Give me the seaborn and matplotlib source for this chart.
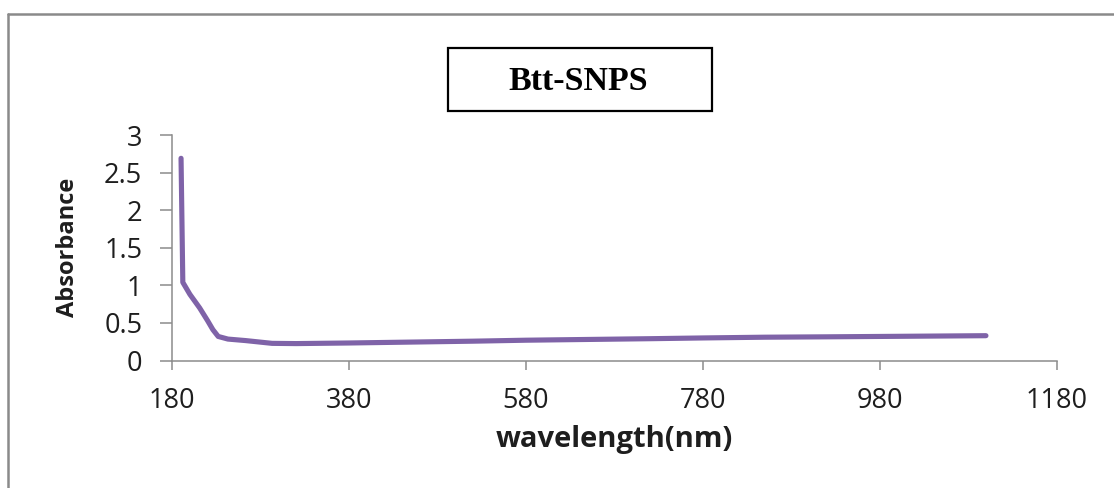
import matplotlib
matplotlib.use("Agg")
import matplotlib.pyplot as plt
from matplotlib.lines import Line2D
from matplotlib.patches import Rectangle
from matplotlib.ticker import FuncFormatter
import seaborn as sns
import pandas as pd

# ---- data ----
wavelength = [190, 192, 200, 211, 220, 226, 232, 243, 263, 293, 320, 380, 450,
              520, 580, 650, 720, 780, 850, 920, 980, 1040, 1100]
absorbance = [2.69, 1.04, 0.88, 0.70, 0.53, 0.41, 0.32, 0.285, 0.265, 0.228, 0.225,
              0.233, 0.245, 0.257, 0.27, 0.28, 0.29, 0.30, 0.31, 0.315, 0.32, 0.325, 0.33]
x_ticks = [180, 380, 580, 780, 980, 1180]
y_ticks = [0, 0.5, 1, 1.5, 2, 2.5, 3]
title = "Btt-SNPS"
x_label = "wavelength(nm)"
y_label = "Absorbance"

sns.set_style("white")
plt.rcParams['font.family'] = ['Open Sans', 'DejaVu Sans']

W, H = 1114, 488
fig = plt.figure(figsize=(W / 100, H / 100), dpi=100)
fig.patch.set_facecolor("white")

def fx(px):
    return px / W

def fy(py):
    return 1 - py / H

ax_l, ax_r, ax_t, ax_b = 172.2, 1056.7, 135.0, 360.5
ax = fig.add_axes([fx(ax_l), fy(ax_b), fx(ax_r) - fx(ax_l), fy(ax_t) - fy(ax_b)])

df = pd.DataFrame({"wavelength": wavelength, "absorbance": absorbance})
sns.lineplot(data=df, x="wavelength", y="absorbance", ax=ax, estimator=None,
             sort=False, color="#7f63a8", linewidth=3.7,
             solid_joinstyle="round", solid_capstyle="round")

ax.set_xlim(180, 1180)
ax.set_ylim(0, 3)
ax.set_xticks(x_ticks)
ax.set_yticks(y_ticks)
ax.yaxis.set_major_formatter(FuncFormatter(lambda v, p: f"{v:g}"))

for s in ["top", "right"]:
    ax.spines[s].set_visible(False)
for s in ["left", "bottom"]:
    ax.spines[s].set_color("#8c8c8c")
    ax.spines[s].set_linewidth(1.1)

ax.tick_params(axis="x", which="major", direction="out", length=6.3, width=1.1,
               color="#8c8c8c", pad=13, labelsize=19.5, labelcolor="#1e1e1e", bottom=True)
ax.tick_params(axis="y", which="major", direction="out", length=8.5, width=1.1,
               color="#8c8c8c", pad=13, labelsize=19.5, labelcolor="#1e1e1e", left=True)

ax.set_xlabel(x_label, fontsize=21, fontweight="bold", color="#1e1e1e")
ax.set_ylabel(y_label, fontsize=17, fontweight="bold", color="#1e1e1e")
ax.xaxis.set_label_coords((614.5 - ax_l) / (ax_r - ax_l), -(440 - ax_b) / (ax_b - ax_t))
ax.yaxis.set_label_coords(-(ax_l - 68) / (ax_r - ax_l), 0.5)
ax.xaxis.label.set_va("center")
ax.yaxis.label.set_va("center")

# outer chart-area border (gray, left and top visible)
fig.add_artist(Line2D([fx(8), fx(8)], [fy(14), fy(H + 5)], color="#8a8a8a", linewidth=1.8,
                      transform=fig.transFigure))
fig.add_artist(Line2D([fx(8), fx(W + 5)], [fy(14), fy(14)], color="#8a8a8a", linewidth=1.8,
                      transform=fig.transFigure))

# title box
fig.add_artist(Rectangle((fx(448.3), fy(110.7)), fx(711.7) - fx(448.3), fy(48.3) - fy(110.7),
                         transform=fig.transFigure, fill=False, edgecolor="black", linewidth=1.6))
fig.text(fx(578.5), fy(90.5), title, ha="center", va="baseline", fontsize=24.5,
         fontweight="bold", family=["Liberation Serif", "DejaVu Serif"], color="black")

fig.savefig("out.png", dpi=100)
